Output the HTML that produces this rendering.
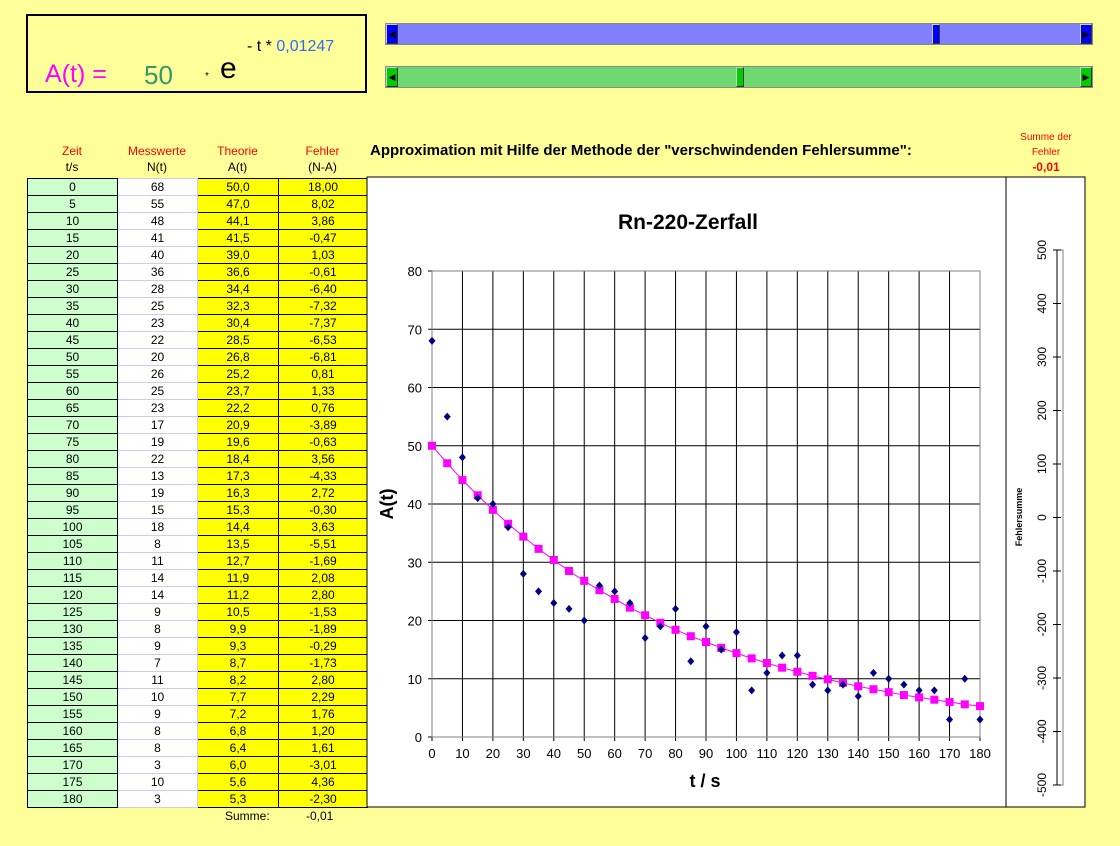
<!DOCTYPE html>
<html><head><meta charset="utf-8">
<style>
body{margin:0;width:1120px;height:846px;background:#ffff99;font-family:"Liberation Sans",sans-serif;position:relative;overflow:hidden}
.abs{position:absolute}
.slider{position:absolute;left:385px;width:708px;height:22px;border:1px solid #888;box-sizing:border-box}
.btn{position:absolute;top:0;width:12px;height:20px;border:1px solid #ccc;border-right-color:#333;border-bottom-color:#333;box-sizing:border-box;font-size:9px;line-height:18px;text-align:center;color:#000}
.thumb{position:absolute;top:0;width:8px;height:20px;border:1px solid #ccc;border-right-color:#333;border-bottom-color:#333;box-sizing:border-box}
table{position:absolute;left:27px;top:178px;border-collapse:collapse;font-size:12px}
td{height:16px;padding:0;text-align:center;line-height:16px;border:1px solid #000}
td.z{width:89px;background:#ccffcc}
td.m{width:79px;background:#fff;border-color:#cce}
td.t{width:80px;background:#ffff00}
td.f{width:88px;background:#ffff00}
.hd{position:absolute;font-size:12px;text-align:center}
</style></head><body>
<div class="abs" style="left:26px;top:14px;width:341px;height:79px;border:2px solid #000;box-sizing:border-box">
 <span class="abs" style="left:17px;top:44px;font-size:25px;color:#ff00ff">A(t) =</span>
 <span class="abs" style="left:116px;top:44px;font-size:26px;color:#339966">50</span>
 <span class="abs" style="left:177px;top:55px;font-size:10px">*</span>
 <span class="abs" style="left:192px;top:36px;font-size:30px">e</span>
 <span class="abs" style="left:219px;top:22px;font-size:16px">- t * <span style="color:#3366ff">0,01247</span></span>
</div>
<div class="slider" style="top:23px;background:#8080ff">
 <div class="btn" style="left:0;background:#0000ff">◀</div>
 <div class="thumb" style="left:546px;background:#0000ff"></div>
 <div class="btn" style="right:0;background:#0000ff">▶</div>
</div>
<div class="slider" style="top:66px;background:#70d870">
 <div class="btn" style="left:0;background:#00cc00">◀</div>
 <div class="thumb" style="left:350px;background:#00cc00"></div>
 <div class="btn" style="right:0;background:#00cc00">▶</div>
</div>
<div class="hd" style="left:27px;top:144px;width:90px;color:red">Zeit<br><span style="color:#000;line-height:18px">t/s</span></div>
<div class="hd" style="left:117px;top:144px;width:80px;color:red">Messwerte<br><span style="color:#000;line-height:18px">N(t)</span></div>
<div class="hd" style="left:197px;top:144px;width:81px;color:red">Theorie<br><span style="color:#000;line-height:18px">A(t)</span></div>
<div class="hd" style="left:278px;top:144px;width:89px;color:red">Fehler<br><span style="color:#000;line-height:18px">(N-A)</span></div>
<div class="abs" style="left:370px;top:142px;font-size:15px;font-weight:bold">Approximation mit Hilfe der Methode der "verschwindenden Fehlersumme":</div>
<div class="hd" style="left:1010px;top:130px;width:72px;font-size:10px;color:red;line-height:15px">Summe der<br>Fehler<br><b style="font-size:12px">-0,01</b></div>
<table id="tbl"></table>
<div class="abs" style="left:225px;top:809px;font-size:12px">Summe:</div>
<div class="abs" style="left:306px;top:809px;font-size:12px">-0,01</div>
<svg class="abs" style="left:0;top:0" width="1120" height="846" id="chart"></svg>
<script>
const times=[0,5,10,15,20,25,30,35,40,45,50,55,60,65,70,75,80,85,90,95,100,105,110,115,120,125,130,135,140,145,150,155,160,165,170,175,180];
const measured=[68,55,48,41,40,36,28,25,23,22,20,26,25,23,17,19,22,13,19,15,18,8,11,14,14,9,8,9,7,11,10,9,8,8,3,10,3];
const theory=[50.0,47.0,44.1,41.5,39.0,36.6,34.4,32.3,30.4,28.5,26.8,25.2,23.7,22.2,20.9,19.6,18.4,17.3,16.3,15.3,14.4,13.5,12.7,11.9,11.2,10.5,9.9,9.3,8.7,8.2,7.7,7.2,6.8,6.4,6.0,5.6,5.3];
const errors=[18.00,8.02,3.86,-0.47,1.03,-0.61,-6.40,-7.32,-7.37,-6.53,-6.81,0.81,1.33,0.76,-3.89,-0.63,3.56,-4.33,2.72,-0.30,3.63,-5.51,-1.69,2.08,2.80,-1.53,-1.89,-0.29,-1.73,2.80,2.29,1.76,1.20,1.61,-3.01,4.36,-2.30];
const xTicks=[0,10,20,30,40,50,60,70,80,90,100,110,120,130,140,150,160,170,180];
const yTicks=[0,10,20,30,40,50,60,70,80];
const sumTicks=[500,400,300,200,100,0,-100,-200,-300,-400,-500];

const fmt=(v,d)=>v.toFixed(d).replace('.',',');
const tbl=document.getElementById('tbl');
times.forEach((t,i)=>{
 const tr=document.createElement('tr');
 
 
 tr.innerHTML=`<td class="z">${t}</td><td class="m">${measured[i]}</td><td class="t">${fmt(theory[i],1)}</td><td class="f">${fmt(errors[i],2)}</td>`;
 tbl.appendChild(tr);
});

const svg=document.getElementById('chart');
const NS='http://www.w3.org/2000/svg';
function el(tag,attrs,name,text){const e=document.createElementNS(NS,tag);for(const k in attrs)e.setAttribute(k,attrs[k]);
 
 
 if(text!==undefined)e.textContent=text;svg.appendChild(e);return e;}
const X0=432,X1=980,Y0=737,Y1=271;
const xs=v=>X0+(v-0)/180*(X1-X0);
const ys=v=>Y0-(v-0)/80*(Y0-Y1);
el('rect',{x:367,y:177,width:718,height:630,fill:'#fff',stroke:'#000'},'chart-panel');
el('line',{x1:1006,y1:177,x2:1006,y2:807,stroke:'#000'},'panel-divider');
el('text',{x:688,y:229,'font-size':21,'font-weight':'bold','text-anchor':'middle','font-family':'Liberation Sans'},'chart-title','Rn-220-Zerfall');
xTicks.forEach(v=>{el('line',{x1:xs(v),y1:Y1,x2:xs(v),y2:Y0+4,stroke:'#000'},'x-gridline');
 el('text',{x:xs(v),y:Y0+21,'font-size':13,'text-anchor':'middle','font-family':'Liberation Sans'},'x-tick-label',v);});
yTicks.forEach(v=>{el('line',{x1:X0-4,y1:ys(v),x2:X1,y2:ys(v),stroke:'#000'},'y-gridline');
 el('text',{x:X0-10,y:ys(v)+5,'font-size':13,'text-anchor':'end','font-family':'Liberation Sans'},'y-tick-label',v);});
el('rect',{x:X0,y:Y1,width:X1-X0,height:Y0-Y1,fill:'none',stroke:'#808080'},'plot-area');
el('text',{x:705,y:787,'font-size':18,'font-weight':'bold','text-anchor':'middle','font-family':'Liberation Sans'},'x-axis-title','t / s');
el('text',{x:393,y:504,'font-size':18,'font-weight':'bold','text-anchor':'middle','font-family':'Liberation Sans',transform:'rotate(-90 393 504)'},'y-axis-title','A(t)');
el('polyline',{points:times.map((t,i)=>xs(t)+','+ys(theory[i])).join(' '),fill:'none',stroke:'#ff00ff','stroke-width':1},'theory-line');
times.forEach((t,i)=>el('rect',{x:xs(t)-4,y:ys(theory[i])-4,width:8,height:8,fill:'#ff00ff'},'theory-point'));
times.forEach((t,i)=>{const x=xs(t),y=ys(measured[i]);el('polygon',{points:`${x},${y-4} ${x+3.5},${y} ${x},${y+4} ${x-3.5},${y}`,fill:'#000080'},'measured-point');});
// error sum axis
const SY0=250,SY1=785;const ss=v=>SY0+(500-v)/1000*(SY1-SY0);
el('rect',{x:1057,y:SY0,width:6,height:SY1-SY0,fill:'none',stroke:'#808080'},'sum-bar-area');
el('line',{x1:1057,y1:SY0,x2:1057,y2:SY1,stroke:'#000'},'sum-axis');
sumTicks.forEach(v=>{el('line',{x1:1053,y1:ss(v),x2:1061,y2:ss(v),stroke:'#000'},'sum-tick');
 el('text',{x:1046,y:ss(v),'font-size':12,'text-anchor':'middle','font-family':'Liberation Sans',transform:`rotate(-90 1046 ${ss(v)})`},'sum-tick-label',v);});
el('text',{x:1022,y:517,'font-size':9,'font-weight':'bold','text-anchor':'middle','font-family':'Liberation Sans',transform:'rotate(-90 1022 517)'},'sum-axis-title','Fehlersumme');
</script>
</body></html>
